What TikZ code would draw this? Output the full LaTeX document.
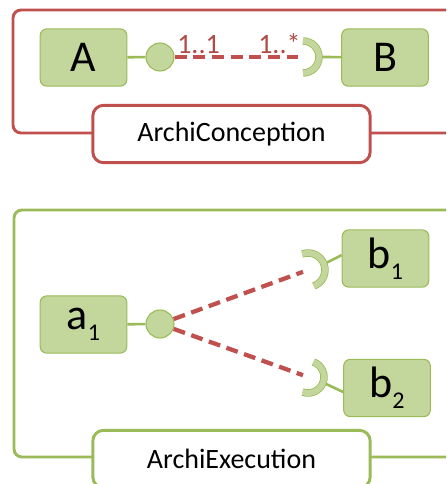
\documentclass[tikz,border=0pt]{standalone}
\usepackage{fontspec}
\setmainfont{Carlito}
\usetikzlibrary{positioning}
\definecolor{archired}{HTML}{C0504D}
\definecolor{archigreen}{HTML}{9BBB59}
\definecolor{archifill}{HTML}{C3D69B}
\newcommand{\lowidx}[1]{\raisebox{-0.25em}{\fontsize{18}{18}\selectfont #1}}

\begin{document}
\begin{tikzpicture}[x=0.75pt, y=-0.75pt,
    comp/.style={rectangle, rounded corners=5pt, draw=archigreen, fill=archifill, line width=0.8pt, minimum width=65pt, minimum height=43pt, inner sep=0pt, font=\fontsize{33}{33}\selectfont},
    ball/.style={circle, draw=archigreen, fill=archifill, line width=0.8pt, minimum size=21pt, inner sep=0pt},
    stub/.style={archigreen, line width=2pt},
    link/.style={archired, line width=3.2pt, dash pattern=on 9pt off 5pt},
    socket/.style={draw=archigreen, line width=0.6pt, double=archifill, double distance=4.4pt},
    frame/.style={rounded corners=6pt, line width=2.2pt},
    tag/.style={rectangle, rounded corners=8pt, fill=white, line width=2.2pt, minimum width=208pt, minimum height=43pt, font=\fontsize{21}{21}\selectfont},
    mult/.style={text=archired!92!black, font=\fontsize{21}{21}\selectfont, inner sep=0pt, anchor=base west}
]
    \path[use as bounding box, clip] (0,0) rectangle (446,484);

    % conception layer
    \draw[frame, archired] (470,10) -- (13,10) -- (13,133) -- (470,133);
    \node[tag, draw=archired] (conc) at (231.5,134) {ArchiConception};
    \node[comp] (A) at (83.5,57.5) {A};
    \node[comp] (B) at (385,57.5) {B};
    \node[ball] (ballA) at (160,57) {};
    \coordinate (skB) at (303,57);
    \coordinate (tipB) at (319,57);
    \draw[stub] (A) -- (ballA);
    \draw[stub] (tipB) -- (B);
    \draw[link, shorten >=4pt] (ballA) -- (skB);
    \draw[socket] (skB) ++(90:16) arc[start angle=90, end angle=-90, radius=16];
    \node[mult] (m1) at (177,53.5) {1..1};
    \node[mult] (m2) at (258,53.5) {1..*};

    % execution layer
    \draw[frame, archigreen] (470,210) -- (14,210) -- (14,457) -- (470,457);
    \node[tag, draw=archigreen] (exec) at (231.5,459) {ArchiExecution};
    \node[comp] (a1) at (83.5,324.5) {a\lowidx{1}};
    \node[comp] (b1) at (385.5,258.5) {b\lowidx{1}};
    \node[comp] (b2) at (387,388) {b\lowidx{2}};
    \node[ball] (ballE) at (160,324) {};
    \coordinate (skB1) at (308,270);
    \coordinate (tipB1) at (324,264);
    \coordinate (skB2) at (308,377);
    \coordinate (tipB2) at (324,383);
    \draw[stub] (a1) -- (ballE);
    \draw[stub] (tipB1) -- ([yshift=2.5pt]b1.west);
    \draw[stub] (tipB2) -- ([yshift=-3pt]b2.west);
    \draw[link, shorten >=4pt] (ballE) -- (skB1);
    \draw[link, shorten >=4pt] (ballE) -- (skB2);
    \draw[socket] (skB1) ++(70:17) arc[start angle=70, end angle=-110, radius=17];
    \draw[socket] (skB2) ++(110:16) arc[start angle=110, end angle=-70, radius=16];
\end{tikzpicture}
\end{document}
